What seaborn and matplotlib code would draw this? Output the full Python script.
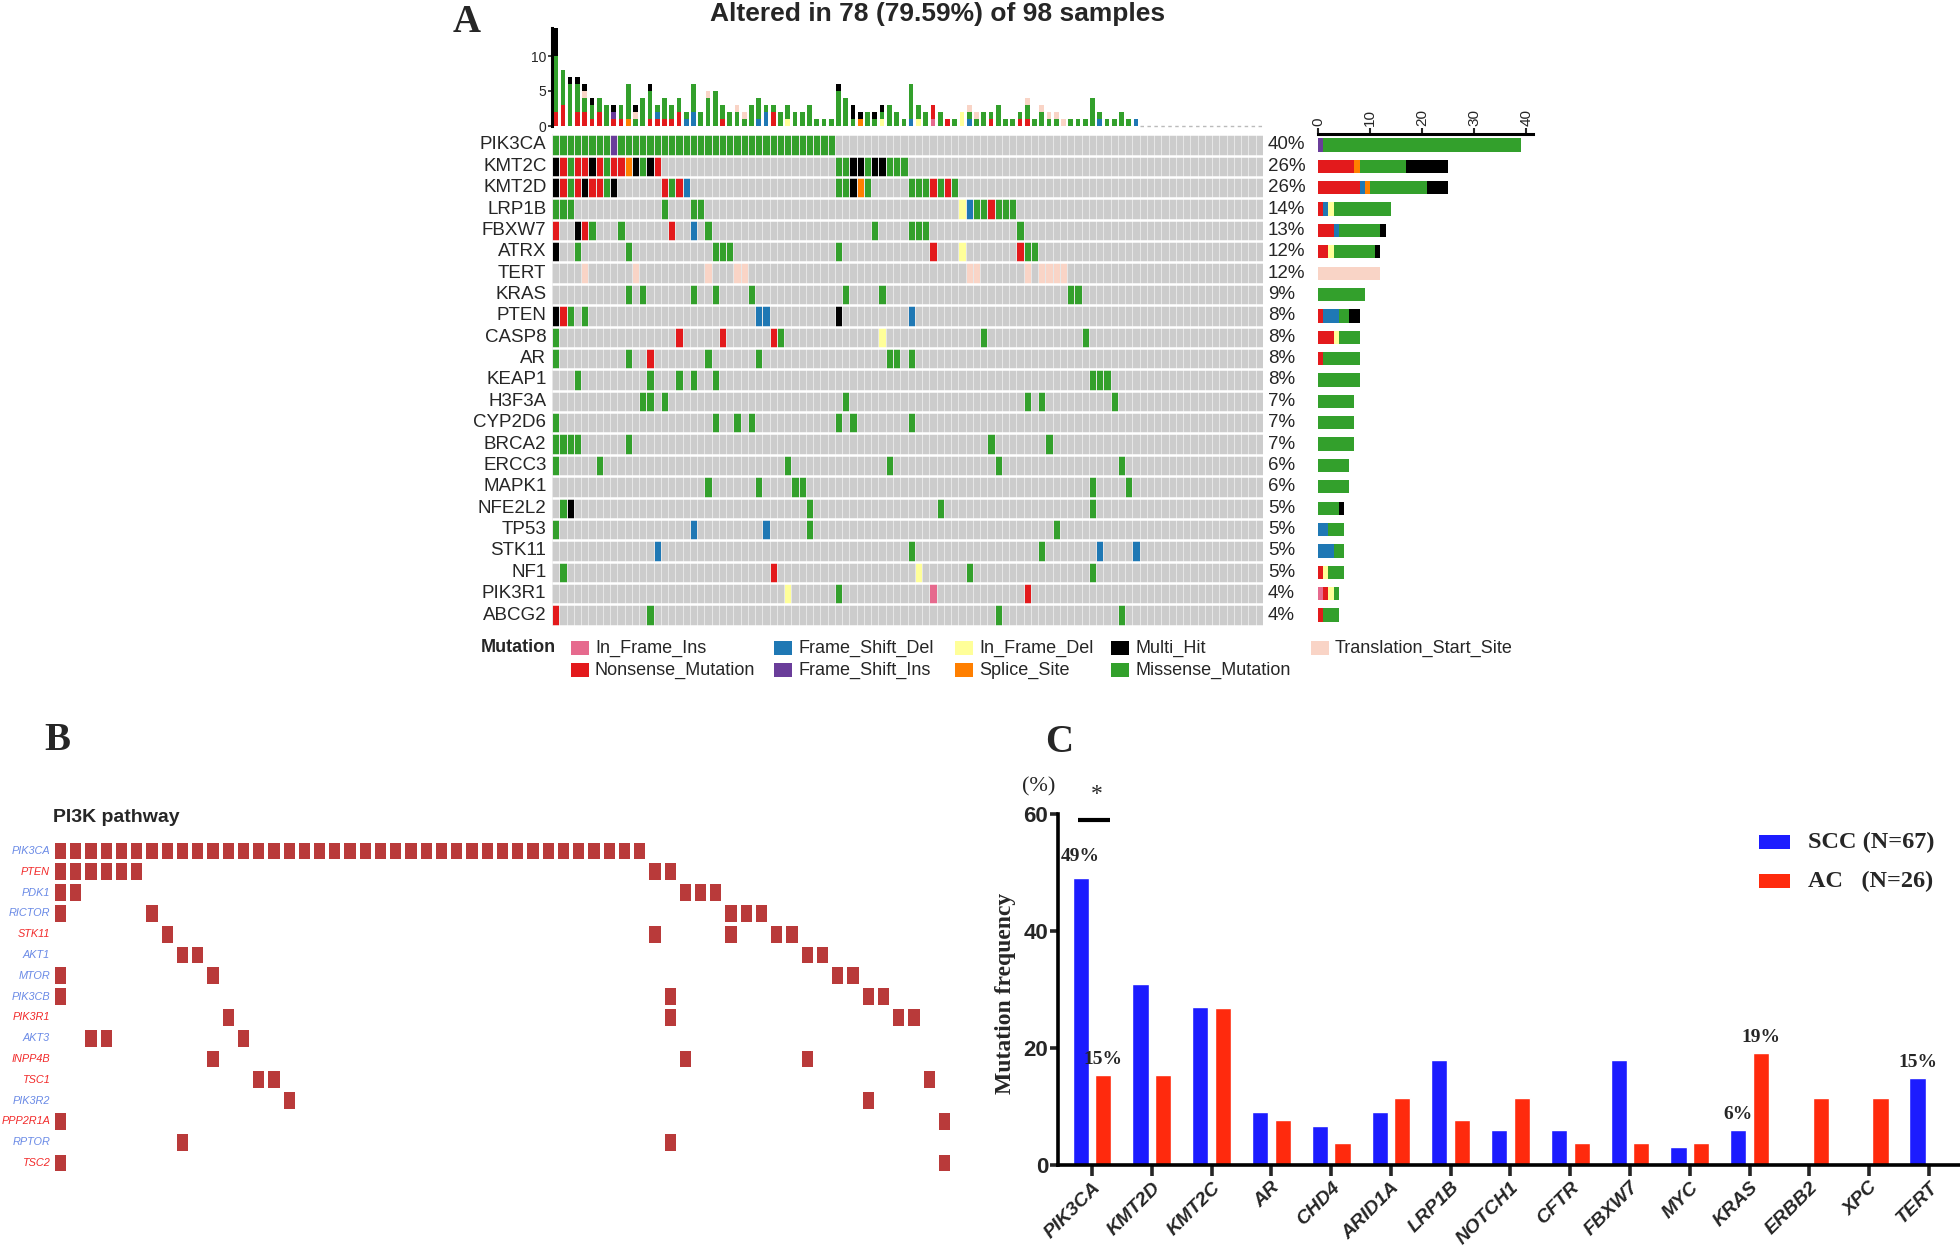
import numpy as np
import pandas as pd
import matplotlib
matplotlib.use("Agg")
import matplotlib.pyplot as plt
from matplotlib.colors import ListedColormap
from matplotlib.patches import Rectangle
from matplotlib import font_manager
import seaborn as sns

# ---------------- Panel A : oncoplot, 98 samples ----------------
n_samples = 98
onco_genes = ["PIK3CA", "KMT2C", "KMT2D", "LRP1B", "FBXW7", "ATRX", "TERT", "KRAS", "PTEN",
              "CASP8", "AR", "KEAP1", "H3F3A", "CYP2D6", "BRCA2", "ERCC3", "MAPK1", "NFE2L2",
              "TP53", "STK11", "NF1", "PIK3R1", "ABCG2"]
# "<sample><code>" per gene
onco_calls = [
    "0G 1G 2G 3G 4G 5G 6G 7G 8I 9G 10G 11G 12G 13G 14G 15G 16G 17G 18G 19G 20G 21G 22G 23G 24G "
    "25G 26G 27G 28G 29G 30G 31G 32G 33G 34G 35G 36G 37G 38G",
    "0M 1N 2G 3N 4N 5M 6N 7G 8N 9N 10S 11M 12G 13M 14N 39G 40G 41M 42M 43G 44M 45M 46G 47G 48G",
    "0M 1N 2G 3N 4M 5N 6N 7G 8M 15N 16G 17N 18D 39G 40G 41M 42S 43G 49G 50G 51G 52N 53G 54N 55G",
    "0G 1G 2G 15G 19G 20G 56d 57D 58G 59G 60N 61G 62G 63G",
    "0N 3M 4N 5G 9G 16N 19D 21G 44G 49G 50G 51G 64G",
    "0M 3G 10G 22G 23G 24G 39G 52N 56d 64N 65G 66G",
    "4T 11T 21T 25T 26T 57T 58T 65T 67T 68T 69T 70T",
    "10G 12G 19G 22G 27G 40G 45G 71G 72G",
    "0M 1N 2G 4G 28D 29D 39M 49D",
    "0G 17N 23N 30N 31G 45d 59G 73G",
    "0G 10G 13N 21G 28G 46G 47G 49G",
    "3G 13G 17G 19G 22G 74G 75G 76G",
    "12G 13G 15G 40G 65G 67G 77G",
    "0G 22G 25G 27G 39G 41G 49G",
    "0G 1G 2G 3G 10G 60G 68G",
    "0G 6G 32G 46G 61G 78G",
    "21G 28G 33G 34G 74G 79G",
    "1G 2M 35G 53G 74G",
    "0G 19D 29D 35G 69G",
    "14D 49G 67G 75D 80D",
    "1G 30N 50d 57G 74G",
    "32d 39G 52i 65N",
    "0N 13G 61G 78G",
]
# stacking order of variant classes
mut_codes = ["i", "N", "D", "I", "d", "S", "G", "T", "M"]
mut_names = ["In_Frame_Ins", "Nonsense_Mutation", "Frame_Shift_Del", "Frame_Shift_Ins", "In_Frame_Del",
             "Splice_Site", "Missense_Mutation", "Translation_Start_Site", "Multi_Hit"]
mut_colors = ["#E66A8E", "#E31A1C", "#1F78B4", "#6A3D9A", "#FFFF99",
              "#FF7F00", "#33A02C", "#F9D4C6", "#000000"]
legend_order = ["i", "N", "D", "I", "d", "S", "M", "G", "T"]
title_a = "Altered in 78 (79.59%) of 98 samples"

# ---------------- Panel B : PI3K pathway ----------------
b_n = 59
b_genes = ["PIK3CA", "PTEN", "PDK1", "RICTOR", "STK11", "AKT1", "MTOR", "PIK3CB", "PIK3R1",
           "AKT3", "INPP4B", "TSC1", "PIK3R2", "PPP2R1A", "RPTOR", "TSC2"]
b_samples = [
    [0, 1, 2, 3, 4, 5, 6, 7, 8, 9, 10, 11, 12, 13, 14, 15, 16, 17, 18, 19, 20, 21, 22, 23, 24,
     25, 26, 27, 28, 29, 30, 31, 32, 33, 34, 35, 36, 37, 38],
    [0, 1, 2, 3, 4, 5, 39, 40],
    [0, 1, 41, 42, 43],
    [0, 6, 44, 45, 46],
    [7, 39, 44, 47, 48],
    [8, 9, 49, 50],
    [0, 10, 51, 52],
    [0, 40, 53, 54],
    [11, 40, 55, 56],
    [2, 3, 12],
    [10, 41, 49],
    [13, 14, 57],
    [15, 53],
    [0, 58],
    [8, 40],
    [0, 58],
]
b_label_colors = ["#6A8AE6", "#F22B2B", "#6A8AE6", "#6A8AE6", "#F22B2B", "#6A8AE6", "#6A8AE6", "#6A8AE6",
                  "#F22B2B", "#6A8AE6", "#F22B2B", "#F22B2B", "#6A8AE6", "#F22B2B", "#6A8AE6", "#F22B2B"]

# ---------------- Panel C : SCC vs AC ----------------
c_genes = ["PIK3CA", "KMT2D", "KMT2C", "AR", "CHD4", "ARID1A", "LRP1B", "NOTCH1", "CFTR",
           "FBXW7", "MYC", "KRAS", "ERBB2", "XPC", "TERT"]
scc_freq = [49, 31, 27, 9, 6.7, 9, 17.9, 6, 6, 17.9, 3, 6, 0, 0, 14.9]
ac_freq = [15.4, 15.4, 26.9, 7.7, 3.8, 11.5, 7.7, 11.5, 3.8, 3.8, 3.8, 19.2, 11.5, 11.5, 0]
c_groups = ["SCC (N=67)", "AC   (N=26)"]
c_colors = ["#1C1CFF", "#FF2A0D"]
# (gene, group index) of bars that carry a % label
c_annot = [("PIK3CA", 0), ("PIK3CA", 1), ("KRAS", 0), ("KRAS", 1), ("TERT", 0)]

sns.set_theme(style="white")
have = {f.name for f in font_manager.fontManager.ttflist}
SANS = "Liberation Sans"
NARROW = "Liberation Sans Narrow" if "Liberation Sans Narrow" in have else SANS
SERIF = "Liberation Serif"
plt.rcParams["font.family"] = [SANS, "DejaVu Sans"]

W, H = 1960, 1248
fig = plt.figure(figsize=(W / 100, H / 100), dpi=100)


def px_axes(l, t, r, b):
    return fig.add_axes([l / W, 1 - b / H, (r - l) / W, (b - t) / H])


def fx(x):
    return x / W


def fy(y):
    return 1 - y / H


# ---- A: data tables
rows = []
for g, calls in zip(onco_genes, onco_calls):
    for tok in calls.split():
        rows.append((g, int(tok[:-1]), tok[-1]))
maf = pd.DataFrame(rows, columns=["gene", "sample", "code"])
code_idx = {c: k + 1 for k, c in enumerate(mut_codes)}
mat = (maf.assign(v=maf["code"].map(code_idx))
       .pivot(index="gene", columns="sample", values="v")
       .reindex(index=onco_genes, columns=range(n_samples)).fillna(0))
per_sample = pd.crosstab(maf["sample"], maf["code"]).reindex(index=range(n_samples), columns=mut_codes, fill_value=0)
per_gene = pd.crosstab(maf["gene"], maf["code"]).reindex(index=onco_genes, columns=mut_codes, fill_value=0)

# ---- A: grid
ax_grid = px_axes(552, 134.3, 1263, 625.7)
sns.heatmap(mat, ax=ax_grid, cmap=ListedColormap(["#CCCCCC"] + mut_colors), vmin=-0.5,
            vmax=len(mut_codes) + 0.5, cbar=False, linewidths=0.6, linecolor="#E6E6E6",
            xticklabels=False, yticklabels=onco_genes)
ax_grid.hlines(np.arange(len(onco_genes) + 1), 0, n_samples, colors="white", lw=1.8)
ax_grid.tick_params(left=False, bottom=False, length=0, pad=4)
ax_grid.set_yticklabels(onco_genes, rotation=0, fontsize=13.5)
ax_grid.set_xlabel("")
ax_grid.set_ylabel("")
totals = per_gene.sum(axis=1).values
for i, n in enumerate(totals):
    ax_grid.text(n_samples + 0.7, i + 0.5, f"{round(100 * n / n_samples)}%", va="center", ha="left",
                 fontsize=13.5, clip_on=False)

# ---- A: top bars (variants per sample)
ax_top = px_axes(552, 28, 1263, 126)
xs = np.arange(n_samples) + 0.5
bottom = np.zeros(n_samples)
for c, col in zip(mut_codes, mut_colors):
    v = per_sample[c].values
    ax_top.bar(xs, v, bottom=bottom, width=0.65, color=col, linewidth=0)
    bottom += v
empty = np.where(bottom == 0)[0]
ax_top.hlines(0, empty.min() + 0.1, n_samples, colors="#BBBBBB", linestyles=(0, (2.5, 2.5)), lw=1, clip_on=False)
ax_top.set_xlim(0, n_samples)
ax_top.set_ylim(0, bottom.max())
for s in ["top", "right", "bottom"]:
    ax_top.spines[s].set_visible(False)
ax_top.spines["left"].set_linewidth(2.2)
ax_top.spines["left"].set_color("black")
ax_top.set_xticks([])
ax_top.set_yticks([0, 5, 10])
ax_top.tick_params(axis="y", left=True, length=3, width=1.2, labelsize=10, pad=1)

# ---- A: side bars (variants per gene)
ax_side = px_axes(1318, 134.3, 1533, 625.7)
ys = np.arange(len(onco_genes)) + 0.5
left = np.zeros(len(onco_genes))
for c, col in zip(mut_codes, mut_colors):
    v = per_gene[c].values
    ax_side.barh(ys, v, left=left, height=0.62, color=col, linewidth=0)
    left += v
ax_side.set_ylim(len(onco_genes), 0)
ax_side.set_xlim(0, 41.3)
for s in ["bottom", "right", "left"]:
    ax_side.spines[s].set_visible(False)
ax_side.spines["top"].set_linewidth(2.2)
ax_side.spines["top"].set_color("black")
ax_side.set_yticks([])
ax_side.xaxis.tick_top()
ax_side.set_xticks([0, 10, 20, 30, 40])
ax_side.tick_params(axis="x", top=True, length=4, width=1.5, labelsize=11, labelrotation=90, pad=2)

# ---- A: texts and legend
fig.text(fx(467), fy(22), "A", family=SERIF, weight="bold", fontsize=28, ha="center", va="center")
fig.text(fx(938), fy(14), title_a, weight="bold", fontsize=19, ha="center", va="center")
fig.text(fx(481), fy(648), "Mutation", weight="bold", fontsize=13, ha="left", va="center")
col_x = [571, 774, 955, 1111, 1311]
row_y = [648, 670]
for k, code in enumerate(legend_order):
    j = mut_codes.index(code)
    x0, y0 = col_x[k // 2], row_y[k % 2]
    fig.add_artist(Rectangle((fx(x0), fy(y0 + 7)), 17.5 / W, 14 / H, transform=fig.transFigure,
                             facecolor=mut_colors[j], edgecolor="none"))
    fig.text(fx(x0 + 24), fy(y0), mut_names[j], fontsize=13, ha="left", va="center")

# ---- B
bmat = pd.DataFrame(0, index=b_genes, columns=range(b_n))
for g, s in zip(b_genes, b_samples):
    bmat.loc[g, s] = 1
ax_b = px_axes(52.9, 840.6, 952.1, 1173.4)
sns.heatmap(bmat, ax=ax_b, cmap=ListedColormap(["white", "#B93A3A"]), vmin=0, vmax=1, cbar=False,
            linewidths=2.8, linecolor="white", xticklabels=False, yticklabels=b_genes)
ax_b.tick_params(left=False, bottom=False, length=0, pad=2)
b_fs = 8.9 if NARROW != SANS else 7.8
ax_b.set_yticklabels(b_genes, rotation=0, fontsize=b_fs, family=NARROW, style="italic")
for lab, col in zip(ax_b.get_yticklabels(), b_label_colors):
    lab.set_color(col)
ax_b.set_xlabel("")
ax_b.set_ylabel("")
fig.text(fx(57), fy(741), "B", family=SERIF, weight="bold", fontsize=28, ha="center", va="center")
fig.text(fx(53), fy(817), "PI3K pathway", family=NARROW, weight="bold", fontsize=17 if NARROW != SANS else 14,
         ha="left", va="center")

# ---- C
dfc = pd.DataFrame({"gene": c_genes * 2,
                    "group": [c_groups[0]] * len(c_genes) + [c_groups[1]] * len(c_genes),
                    "freq": scc_freq + ac_freq})
ax_c = px_axes(1058, 814, 1960, 1165)
sns.barplot(data=dfc, x="gene", y="freq", hue="group", hue_order=c_groups, palette=c_colors,
            width=0.76, gap=0.29, saturation=1, errorbar=None, legend=False, ax=ax_c)
ax_c.set_xlim(-0.57, len(c_genes) - 0.48)
ax_c.set_ylim(0, 60)
for s in ["top", "right"]:
    ax_c.spines[s].set_visible(False)
for s in ["left", "bottom"]:
    ax_c.spines[s].set_linewidth(2.6)
    ax_c.spines[s].set_color("black")
ax_c.set_yticks([0, 20, 40, 60])
ax_c.set_yticklabels(["0", "20", "40", "60"], fontsize=16, weight="bold")
ax_c.set_xticks(range(len(c_genes)))
ax_c.set_xticklabels(c_genes, fontsize=14, weight="bold", style="italic", rotation=45, ha="right",
                     rotation_mode="anchor")
ax_c.tick_params(axis="y", left=True, length=6, width=2.6, pad=1)
ax_c.tick_params(axis="x", bottom=True, length=8, width=2.6, pad=2)
ax_c.set_xlabel("")
ax_c.set_ylabel("Mutation frequency", family=SERIF, weight="bold", fontsize=17)
ax_c.yaxis.set_label_coords(-0.047, 0.49)

vals = {c_groups[0]: scc_freq, c_groups[1]: ac_freq}
for gene, gi in c_annot:
    k = c_genes.index(gene)
    v = vals[c_groups[gi]][k]
    dx = -0.19 if gi == 0 else 0.19
    dy = 2.6 if v < 40 else 3.8
    ax_c.text(k + dx, v + dy, f"{round(v)}%", family=SERIF, weight="bold",
              fontsize=14, ha="center", va="center", clip_on=False)
ax_c.plot([-0.24, 0.30], [59, 59], color="black", lw=3, clip_on=False, solid_capstyle="butt")
ax_c.text(0.08, 63.3, "*", family=SERIF, fontsize=17, ha="center", va="center", clip_on=False)
ax_c.text(-0.9, 64.6, "(%)", family=SERIF, fontsize=16, ha="center", va="center", clip_on=False)

for k, (lab, col) in enumerate(zip(c_groups, c_colors)):
    yc = [842, 881][k]
    fig.add_artist(Rectangle((fx(1759), fy(yc + 7)), 31 / W, 14 / H, transform=fig.transFigure,
                             facecolor=col, edgecolor="none"))
    fig.text(fx(1808), fy(yc), lab, family=SERIF, weight="bold", fontsize=17.5, ha="left", va="center")
fig.text(fx(1059), fy(742), "C", family=SERIF, weight="bold", fontsize=28, ha="center", va="center")

fig.savefig("out.png", dpi=100)
